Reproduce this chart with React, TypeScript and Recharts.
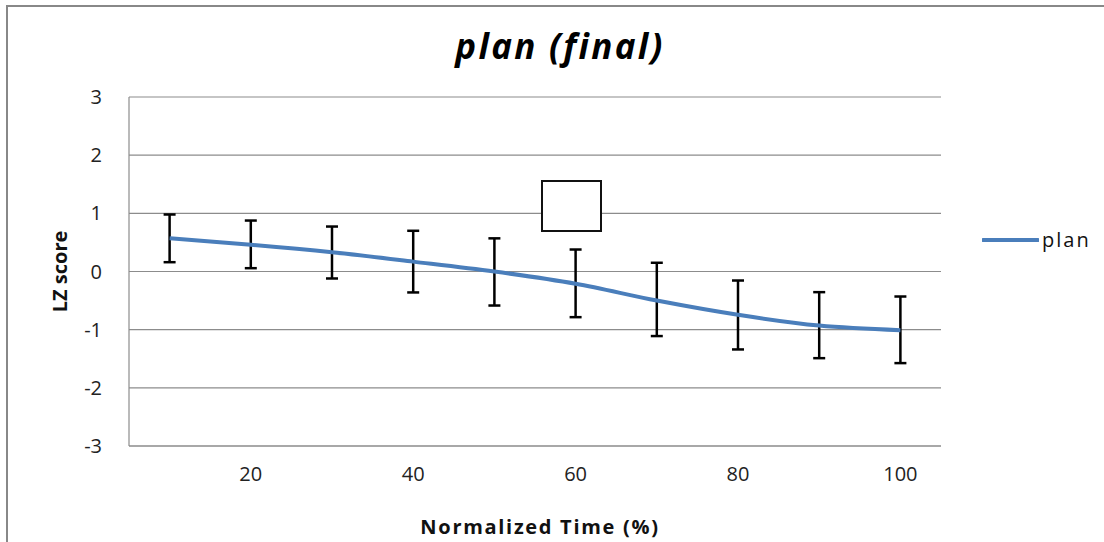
import React from 'react';
import { LineChart, Line, XAxis, YAxis, CartesianGrid, ErrorBar, Legend, Label } from 'recharts';

const categories = [10, 20, 30, 40, 50, 60, 70, 80, 90, 100];
const planMean = [0.57, 0.46, 0.33, 0.17, 0.0, -0.21, -0.5, -0.745, -0.93, -1.01];
const planUpper = [0.98, 0.876, 0.773, 0.7, 0.57, 0.378, 0.15, -0.155, -0.355, -0.43];
const planLower = [0.16, 0.057, -0.12, -0.36, -0.585, -0.785, -1.11, -1.34, -1.49, -1.575];
const yTicks = [-3, -2, -1, 0, 1, 2, 3];
const xTickLabels = [20, 40, 60, 80, 100];

const data = categories.map((c, i) => ({
  t: c,
  plan: planMean[i],
  err: [planMean[i] - planLower[i], planUpper[i] - planMean[i]],
}));

const FONT = "'Open Sans', sans-serif";
const GRID = '#8c8c8c';
const BLUE = '#4a7ebb';

const renderLegend = () => (
  <div style={{ display: 'flex', alignItems: 'center', fontFamily: FONT, fontSize: 20, color: '#111' }}>
    <svg width={57} height={10} style={{ display: 'block' }}>
      <line x1={1} y1={5} x2={56} y2={5} stroke={BLUE} strokeWidth={4} strokeLinecap="round" />
    </svg>
    <span style={{ marginLeft: 3, letterSpacing: 2 }}>plan</span>
  </div>
);

export default function App() {
  return (
    <div style={{ position: 'absolute', left: 0, top: 0, width: 1104, height: 542, overflow: 'hidden', background: '#fff' }}>
      <div style={{ position: 'absolute', left: 6, top: 5, width: 1120, height: 560, border: '2px solid #888', boxSizing: 'border-box' }} />
      <div style={{ position: 'absolute', left: 0, top: 22, width: 1120, textAlign: 'center', fontFamily: FONT, fontWeight: 700, fontStyle: 'italic', fontSize: 35, lineHeight: '48px', letterSpacing: 2.3, color: '#000' }}>
        plan (final)
      </div>
      <LineChart width={1104} height={542} data={data} margin={{ top: 97, right: 163, bottom: 0, left: 0 }} style={{ position: 'absolute', left: 0, top: 0 }}>
        <CartesianGrid vertical={false} stroke={GRID} strokeWidth={1.2} />
        <XAxis
          dataKey="t"
          type="category"
          height={96}
          interval={0}
          padding={{ left: 40.6, right: 40.6 }}
          tickLine={false}
          axisLine={{ stroke: GRID, strokeWidth: 1.2 }}
          tickMargin={15}
          tick={{ fontSize: 20, fill: '#222', fontFamily: FONT }}
          tickFormatter={(v: number) => (xTickLabels.includes(v) ? String(v) : '')}
        >
          <Label value="Normalized Time (%)" position="insideBottom" offset={8} dx={5} style={{ fontSize: 20, fontWeight: 700, fill: '#111', fontFamily: FONT, letterSpacing: 1.7 }} />
        </XAxis>
        <YAxis
          width={129}
          domain={[-3, 3]}
          ticks={yTicks}
          type="number"
          tickLine={false}
          axisLine={{ stroke: GRID, strokeWidth: 1.2 }}
          tickMargin={21}
          tick={{ fontSize: 20, fill: '#222', fontFamily: FONT }}
        >
          <Label value="LZ score" position="center" angle={-90} dx={-5} style={{ fontSize: 20, fontWeight: 700, fill: '#111', fontFamily: FONT }} />
        </YAxis>
        <Legend
          content={renderLegend}
          layout="horizontal"
          verticalAlign="middle"
          align="center"
          wrapperStyle={{ position: 'absolute', left: 982, top: 226, width: 122 }}
        />
        <Line
          type="monotone"
          dataKey="plan"
          name="plan"
          stroke={BLUE}
          strokeWidth={4}
          dot={false}
          isAnimationActive={false}
        >
          <ErrorBar dataKey="err" direction="y" width={6} stroke="#000" strokeWidth={2.5} />
        </Line>
      </LineChart>
      <div style={{ position: 'absolute', left: 541, top: 180, width: 61, height: 52, border: '2px solid #111', boxSizing: 'border-box', background: '#fff' }} />
    </div>
  );
}
